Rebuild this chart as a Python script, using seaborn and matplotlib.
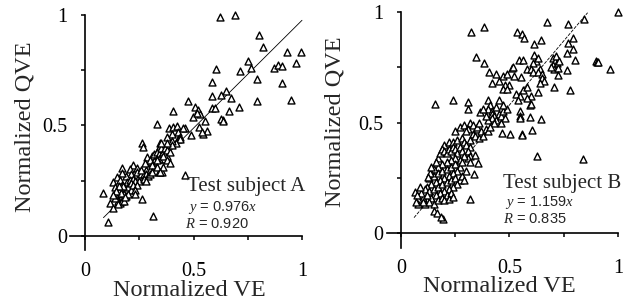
import matplotlib
matplotlib.use("Agg")
import matplotlib.pyplot as plt
import seaborn as sns
import pandas as pd
import numpy as np

# ---------------- data ----------------
# Test subject A: (normalized VE, normalized QVE)
a_ve = [0.622,0.691,0.802,0.819,0.929,0.994,0.753,0.765,0.971,0.872,0.891,0.906,0.605,0.716,0.791,0.910,
        0.584,0.651,0.585,0.628,0.674,0.791,0.949,0.476,0.710,0.662,0.507,0.52,0.53,0.585,0.599,0.634,0.628,0.638,
        0.404,0.499,0.517,0.553,0.333,0.389,0.407,0.422,0.46,0.43,0.45,0.525,0.564,0.545,0.538,0.49,0.40,0.38,
        0.43,0.44,0.44,0.42,0.40,0.261,0.266,0.346,0.353,0.339,
        0.31,0.32,0.33,0.34,0.35,0.36,0.37,0.38,0.36,0.35,0.37,0.38,0.39,0.34,0.33,0.32,0.30,0.31,0.29,0.28,0.30,
        0.284,0.30,0.276,0.307,0.33,0.36,0.38,0.39,0.34,0.355,0.33,0.36,0.346,0.461,0.40,0.38,0.35,
        0.223,0.207,0.238,0.25,0.24,0.26,0.172,0.21,0.19,0.17,0.146,0.161,0.13,0.138,0.169,0.192,0.207,0.22,0.23,
        0.25,0.27,0.26,0.28,
        0.15,0.16,0.17,0.18,0.19,0.20,0.21,0.15,0.16,0.17,0.18,0.19,0.20,0.14,0.15,0.16,0.17,0.18,0.14,0.165,0.175,
        0.185,0.21,0.22,0.24,0.23,0.155,0.145,0.13,0.15,
        0.261,0.230,0.084,0.115,0.128,0.108,0.312,0.27,0.29,0.28,0.30,0.31]
a_qve = [0.989,1.0,0.911,0.854,0.831,0.831,0.793,0.759,0.784,0.759,0.774,0.769,0.754,0.745,0.709,0.694,
         0.697,0.657,0.633,0.639,0.623,0.612,0.615,0.612,0.585,0.564,0.584,0.57,0.55,0.578,0.578,0.525,0.528,0.52,
         0.566,0.537,0.555,0.522,0.508,0.487,0.495,0.498,0.49,0.47,0.49,0.495,0.476,0.46,0.469,0.457,0.46,0.45,
         0.44,0.45,0.44,0.42,0.43,0.419,0.404,0.419,0.389,0.397,
         0.36,0.37,0.38,0.37,0.36,0.38,0.37,0.36,0.35,0.40,0.40,0.39,0.38,0.35,0.35,0.34,0.33,0.32,0.31,0.30,0.30,
         0.359,0.344,0.329,0.321,0.345,0.36,0.345,0.33,0.29,0.29,0.31,0.31,0.288,0.276,0.41,0.42,0.42,
         0.321,0.302,0.306,0.27,0.29,0.28,0.306,0.28,0.27,0.285,0.268,0.253,0.246,0.223,0.231,0.246,0.253,0.26,0.25,
         0.25,0.28,0.30,0.28,
         0.20,0.21,0.20,0.22,0.21,0.22,0.21,0.18,0.17,0.18,0.19,0.18,0.19,0.19,0.16,0.15,0.16,0.16,0.17,0.195,0.225,
         0.175,0.24,0.23,0.23,0.21,0.225,0.205,0.185,0.145,
         0.166,0.19,0.196,0.151,0.125,0.065,0.09,0.26,0.27,0.25,0.28,0.29]

# Test subject B
b_ve = [1.0,0.843,0.771,0.674,0.384,0.321,0.533,0.556,0.567,0.614,0.645,0.771,0.794,0.791,0.764,0.802,0.897,0.902,
        0.907,0.963,
        0.70,0.71,0.72,0.70,0.705,0.725,0.715,0.73,0.69,
        0.764,0.722,0.707,0.779,0.611,0.62,0.61,0.63,0.64,0.544,0.564,0.51,0.515,0.346,0.384,0.407,0.44,0.47,0.49,
        0.58,0.60,0.61,0.63,0.65,0.65,0.66,0.64,0.553,0.52,0.50,0.48,0.42,0.45,0.47,0.49,0.56,0.58,0.60,0.58,0.63,
        0.53,0.55,0.54,0.157,0.241,0.307,0.310,0.364,
        0.40,0.41,0.40,0.42,0.44,0.45,0.42,0.45,0.43,0.44,0.42,0.43,0.40,0.46,0.47,0.48,0.46,0.49,0.47,0.38,0.39,
        0.594,0.598,0.55,0.55,0.55,0.594,0.645,0.464,0.502,0.556,0.558,0.602,0.625,0.840,
        0.25,0.27,0.29,0.32,0.33,0.31,0.30,0.33,0.35,0.34,0.36,0.32,0.35,0.37,0.36,0.39,0.38,0.40,0.41,0.20,0.22,
        0.24,0.26,0.28,0.29,0.30,0.32,0.31,0.32,0.31,0.32,0.338,0.318,0.355,0.341,
        0.17,0.18,0.19,0.20,0.21,0.22,0.23,0.24,0.25,0.26,0.27,0.28,0.29,0.27,0.25,0.23,0.21,0.19,0.17,0.15,0.16,
        0.14,0.13,0.15,0.17,0.19,0.21,0.23,0.25,0.27,0.28,0.26,0.24,0.22,0.20,0.18,0.16,0.14,0.12,0.11,0.13,0.15,
        0.17,0.19,0.21,0.23,0.25,0.27,0.26,0.24,0.22,0.20,0.18,0.16,0.14,0.12,0.10,0.09,0.11,0.13,0.15,0.17,0.19,
        0.21,0.23,0.20,0.22,0.24,0.134,0.126,0.088,0.065,0.08,0.072,0.154,0.164,0.192,0.184,0.10,0.08,0.07,0.12,
        0.14,0.28,0.30,0.29]
b_qve = [1.0,0.968,0.946,0.956,0.933,0.908,0.911,0.899,0.881,0.855,0.873,0.858,0.884,0.831,0.813,0.783,0.778,0.776,
         0.774,0.741,
         0.79,0.78,0.77,0.76,0.74,0.745,0.80,0.78,0.75,
         0.738,0.715,0.659,0.647,0.805,0.78,0.77,0.79,0.74,0.783,0.783,0.745,0.75,0.795,0.771,0.73,0.72,0.71,0.72,
         0.74,0.74,0.73,0.73,0.72,0.70,0.69,0.68,0.705,0.71,0.67,0.67,0.68,0.69,0.65,0.65,0.647,0.66,0.62,0.61,0.64,
         0.63,0.62,0.60,0.582,0.602,0.594,0.561,0.549,
         0.60,0.58,0.56,0.55,0.57,0.54,0.54,0.60,0.53,0.51,0.52,0.50,0.51,0.53,0.55,0.52,0.50,0.56,0.58,0.56,0.53,
         0.579,0.585,0.55,0.53,0.52,0.526,0.514,0.451,0.448,0.448,0.442,0.466,0.35,0.333,
         0.46,0.48,0.49,0.50,0.49,0.47,0.46,0.45,0.47,0.44,0.43,0.42,0.48,0.46,0.50,0.47,0.44,0.46,0.48,0.40,0.41,
         0.41,0.42,0.43,0.41,0.40,0.39,0.37,0.35,0.34,0.32,0.267,0.154,0.317,0.354,
         0.34,0.36,0.38,0.37,0.36,0.38,0.37,0.39,0.38,0.36,0.39,0.37,0.35,0.33,0.34,0.33,0.32,0.31,0.30,0.29,0.32,
         0.27,0.25,0.26,0.27,0.28,0.29,0.30,0.31,0.30,0.32,0.28,0.27,0.26,0.25,0.24,0.23,0.22,0.21,0.20,0.19,0.20,
         0.21,0.22,0.23,0.24,0.25,0.24,0.22,0.21,0.20,0.19,0.18,0.17,0.16,0.15,0.16,0.18,0.13,0.14,0.13,0.15,0.16,
         0.17,0.18,0.15,0.155,0.165,0.27,0.255,0.21,0.187,0.152,0.172,0.10,0.089,0.062,0.071,0.14,0.13,0.14,0.17,
         0.30,0.26,0.28,0.24]

slope_a, r_a = 0.976, 0.920
slope_b, r_b = 1.159, 0.835
line_a_x = [0.085, 1.0]
line_b_x = [0.06, 0.86]

x_label = "Normalized VE"
y_label = "Normalized QVE"
title_a = "Test subject A"
title_b = "Test subject B"
major_ticks = [0, 0.5, 1]
major_labels = ["0", "0.5", "1"]
minor_ticks = [0.25, 0.75]

# ---------------- style ----------------
sns.set_style("white")
plt.rcParams["font.family"] = ["Liberation Serif", "DejaVu Serif"]
plt.rcParams["mathtext.fontset"] = "custom"
plt.rcParams["mathtext.it"] = "Liberation Serif:italic"
plt.rcParams["mathtext.rm"] = "Liberation Sans"

W, H = 623, 307
fig = plt.figure(figsize=(W / 100, H / 100), dpi=100)


def px_axes(x0, x1, y0, y1, xlim, ylim):
    sx = (x1 - x0)
    sy = (y0 - y1)
    left = x0 + xlim[0] * sx
    right = x0 + xlim[1] * sx
    bottom = y0 - ylim[0] * sy
    top = y0 - ylim[1] * sy
    return fig.add_axes([left / W, 1 - bottom / H, (right - left) / W, (bottom - top) / H])


panels = [
    dict(ve=a_ve, qve=a_qve, slope=slope_a, r=r_a, lx=line_a_x, title=title_a, ls="-",
         geom=(85, 302, 236, 15), xlim=(-0.07, 1.03), ylim=(-0.065, 1.03),
         xb=(-0.07, 1.0), yb=(-0.065, 1.0),
         txt=(0.468, 0.222), eq=(0.476, 0.13), rr=(0.461, 0.053)),
    dict(ve=b_ve, qve=b_qve, slope=slope_b, r=r_b, lx=line_b_x, title=title_b, ls=(0, (4, 1.5)),
         geom=(401, 618, 233, 12), xlim=(-0.065, 1.02), ylim=(-0.068, 1.03),
         xb=(-0.065, 1.0), yb=(-0.068, 1.0),
         txt=(0.472, 0.222), eq=(0.479, 0.14), rr=(0.469, 0.062)),
]

for i, p in enumerate(panels):
    ax = px_axes(*p["geom"], p["xlim"], p["ylim"])
    df = pd.DataFrame({"ve": p["ve"], "qve": p["qve"]})
    sns.scatterplot(data=df, x="ve", y="qve", ax=ax, marker="^", s=25,
                    facecolor="white", edgecolor="black", linewidth=1.0,
                    clip_on=False, zorder=3, legend=False)
    lx = np.array(p["lx"])
    sns.lineplot(x=lx, y=p["slope"] * lx, ax=ax, color="black", lw=0.6,
                 linestyle=p["ls"], zorder=2)
    ax.set_xlim(*p["xlim"])
    ax.set_ylim(*p["ylim"])
    for s in ["top", "right"]:
        ax.spines[s].set_visible(False)
    ax.spines["left"].set_position(("data", 0))
    ax.spines["bottom"].set_position(("data", 0))
    ax.spines["bottom"].set_bounds(*p["xb"])
    ax.spines["left"].set_bounds(*p["yb"])
    for s in ["left", "bottom"]:
        ax.spines[s].set_linewidth(1.2)
        ax.spines[s].set_color("black")
    ax.set_xticks(major_ticks)
    ax.set_xticklabels(major_labels)
    ax.set_yticks(major_ticks)
    ax.set_yticklabels(major_labels)
    ax.set_xticks(minor_ticks, minor=True)
    ax.set_yticks(minor_ticks, minor=True)
    ax.tick_params(which="both", direction="out", length=3, width=1.1, color="black",
                   labelsize=14.5, labelcolor="black", bottom=True, left=True)
    ax.tick_params(axis="x", which="major", pad=16)
    ax.tick_params(axis="y", which="major", pad=10)
    ax.set_xlabel(x_label, fontsize=17.5, va="center")
    ax.set_ylabel(y_label, fontsize=17.5, va="center")
    x0, x1, y0, y1 = p["geom"]
    axl = x0 + p["xlim"][0] * (x1 - x0)
    axr = x0 + p["xlim"][1] * (x1 - x0)
    axb = y0 - p["ylim"][0] * (y0 - y1)
    axt = y0 - p["ylim"][1] * (y0 - y1)
    if i == 0:
        xl_c, yl_c = (189.5, 290), (25, 127)
    else:
        xl_c, yl_c = (499, 287), (335, 122)
    ax.xaxis.set_label_coords((xl_c[0] - axl) / (axr - axl), (axb - xl_c[1]) / (axb - axt))
    ax.yaxis.set_label_coords((yl_c[0] - axl) / (axr - axl), (axb - yl_c[1]) / (axb - axt))

    ax.text(p["txt"][0], p["txt"][1], p["title"], fontsize=15, ha="left", va="center")
    ax.text(p["eq"][0], p["eq"][1], r"$y$ = " + f"{p['slope']:.3f}" + r"$x$",
            fontsize=10.5, ha="left", va="center", family="Liberation Sans")
    ax.text(p["rr"][0], p["rr"][1], r"$R$ = " + f"{p['r']:.3f}",
            fontsize=10.5, ha="left", va="center", family="Liberation Sans")

fig.savefig("out.png", dpi=100)
